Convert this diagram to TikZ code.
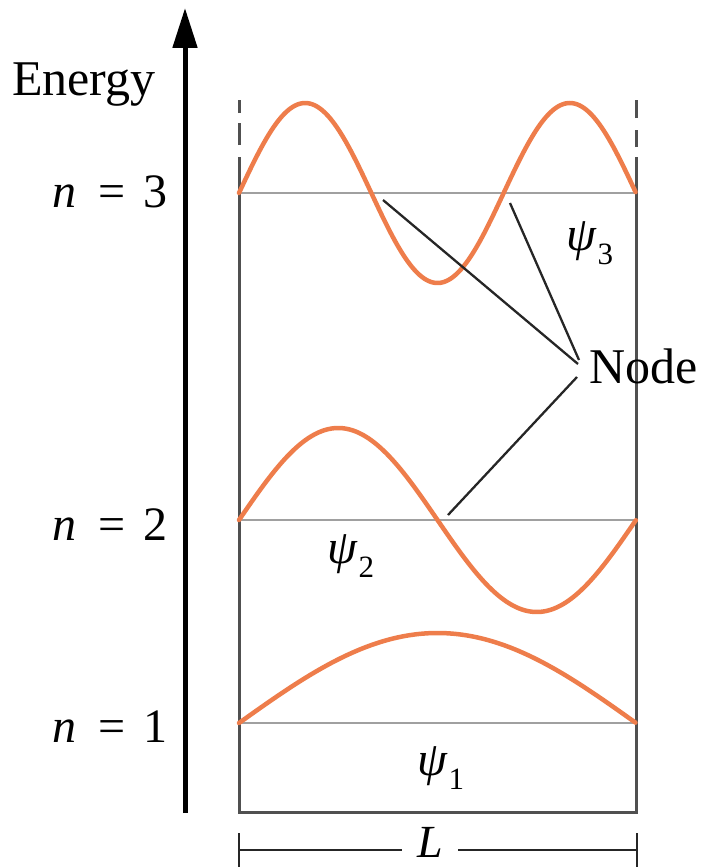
\documentclass[tikz,border=0pt]{standalone}
\usepackage{fontspec}
\setmainfont{Liberation Serif}
\usetikzlibrary{arrows.meta}
\definecolor{wave}{RGB}{238,125,75}
\definecolor{boxc}{RGB}{80,80,80}
\definecolor{levc}{RGB}{160,160,160}
\newcommand{\psisub}[1]{\textit{ψ}\kern1pt\raisebox{-14pt}{\fontsize{31pt}{34pt}\selectfont #1}}
\begin{document}
\begin{tikzpicture}[x=1pt,y=-1pt,
  lbl/.style={inner sep=0pt, font=\fontsize{48pt}{56pt}\selectfont},
  biglbl/.style={inner sep=0pt, font=\fontsize{50pt}{58pt}\selectfont},
  wavec/.style={draw=wave, line width=4.5pt, line cap=round},
  boxline/.style={draw=boxc, line width=3pt},
  level/.style={draw=levc, line width=2pt},
  leader/.style={draw=black!85, line width=2.3pt},
  dimline/.style={draw=black!85, line width=2.5pt}]
\useasboundingbox (0,0) rectangle (702,867);
% energy axis
\coordinate (ab) at (185,813);
\coordinate (at) at (185,8);
\draw[line width=5pt, -{Triangle[length=40pt,width=24pt]}] (ab) -- (at);
\node[biglbl, anchor=base west] (energy) at (12,95) {Energy};
% box
\coordinate (bl) at (239,812);
\coordinate (br) at (636,812);
\coordinate (tl) at (239,157);
\coordinate (tr) at (636,157);
\draw[boxline, line cap=butt] (tl) -- (bl) -- (br) -- (tr);
\draw[boxline] (239,145) -- (239,123) (239,113) -- (239,100);
\draw[boxline] (636,147) -- (636,130) (636,118) -- (636,100);
% levels
\coordinate (l3a) at (239,193); \coordinate (l3b) at (636,193);
\coordinate (l2a) at (239,520); \coordinate (l2b) at (636,520);
\coordinate (l1a) at (239,723); \coordinate (l1b) at (636,723);
\draw[level] (l3a) -- (l3b);
\draw[level] (l2a) -- (l2b);
\draw[level] (l1a) -- (l1b);
% waves
\draw[wavec] plot[domain=0:1, samples=120, smooth, variable=\t] ({239+397*\t}, {723 - 90*sin(180*\t)});
\draw[wavec] plot[domain=0:1, samples=160, smooth, variable=\t] ({239+397*\t}, {520 - 92*sin(360*\t)});
\draw[wavec] plot[domain=0:1, samples=200, smooth, variable=\t] ({239+397*\t}, {193 - 90*sin(540*\t)});
% level labels
\node[lbl, anchor=base east] (n3) at (168,207) {\textit{n}\hspace{0.45em}=\hspace{0.38em}3};
\node[lbl, anchor=base east] (n2) at (168,540) {\textit{n}\hspace{0.45em}=\hspace{0.38em}2};
\node[lbl, anchor=base east] (n1) at (168,742) {\textit{n}\hspace{0.45em}=\hspace{0.38em}1};
% psi labels
\node[lbl, anchor=base west] (p3) at (566,250) {\psisub{3}};
\node[lbl, anchor=base west] (p2) at (327,563) {\psisub{2}};
\node[lbl, anchor=base west] (p1) at (417,775) {\psisub{1}};
% Node label and leaders
\node[biglbl, anchor=base west] (nodelbl) at (589,383) {Node};
\coordinate (z1) at (383,200);
\coordinate (z2) at (510,203);
\coordinate (z3) at (448,515);
\coordinate (e1) at (578,364);
\coordinate (e2) at (579,360);
\coordinate (e3) at (577,377);
\draw[leader] (z1) -- (e1);
\draw[leader] (z2) -- (e2);
\draw[leader] (z3) -- (e3);
% dimension L
\coordinate (lt) at (239,850);
\coordinate (rt) at (637,850);
\node[lbl, anchor=base, inner xsep=15pt, font=\fontsize{46pt}{52pt}\selectfont] (L) at (430,857) {\textit{L}};
\draw[dimline] (239,833) -- (239,867);
\draw[dimline] (637,833) -- (637,867);
\draw[dimline] (lt) -- (lt -| L.west);
\draw[dimline] (rt) -- (rt -| L.east);
\end{tikzpicture}
\end{document}
